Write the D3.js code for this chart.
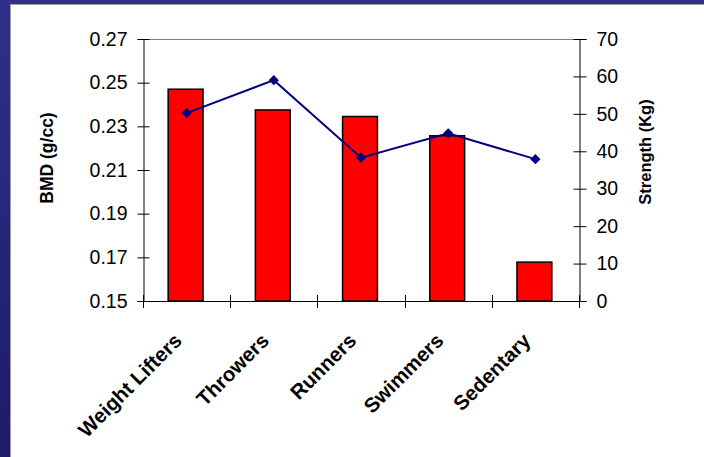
<!DOCTYPE html>
<meta charset="utf-8">
<style>
  body { margin: 0; }
  text { font-family: "Liberation Sans", Arial, sans-serif; }
</style>
<body>
<script src="https://d3js.org/d3.v7.min.js"></script>
<script>

var width = 704,
    height = 457;

// data
var groups = ["Weight Lifters", "Throwers", "Runners", "Swimmers", "Sedentary"];
var bmd = [0.247, 0.2375, 0.2345, 0.2257, 0.1678];   // bars, left axis
var strength = [50.2, 59.0, 38.3, 44.8, 37.9];       // line, right axis
var bmdTicks = [0.15, 0.17, 0.19, 0.21, 0.23, 0.25, 0.27];
var strengthTicks = [0, 10, 20, 30, 40, 50, 60, 70];

var plot = {left: 143, right: 579, top: 39, bottom: 301};

var svg = d3.select("body").append("svg")
    .attr("width", width)
    .attr("height", height);

// slide background: navy frame, white panel
var grad = svg.append("defs").append("linearGradient")
    .attr("id", "frame")
    .attr("x1", 0).attr("y1", 0).attr("x2", 0).attr("y2", 1);
grad.append("stop").attr("offset", 0).attr("stop-color", "#30308a");
grad.append("stop").attr("offset", 1).attr("stop-color", "#1c1c68");

svg.append("rect")
    .attr("width", width).attr("height", height)
    .attr("fill", "url(#frame)");
svg.append("rect")
    .attr("x", 10).attr("y", 4)
    .attr("width", width - 10).attr("height", height - 4)
    .attr("fill", "#fff");
svg.append("path")
    .attr("d", "M10.5," + height + "V4.5H" + width)
    .attr("fill", "none")
    .attr("stroke", "#9a9aa8");

var x = d3.scaleBand()
    .domain(groups)
    .range([plot.left, plot.right])
    .padding(0);

var yL = d3.scaleLinear().domain([0.15, 0.27]).range([plot.bottom, plot.top]);
var yR = d3.scaleLinear().domain([0, 70]).range([plot.bottom, plot.top]);

// top border of plot area
svg.append("line")
    .attr("x1", plot.left).attr("x2", plot.right)
    .attr("y1", plot.top + 0.5).attr("y2", plot.top + 0.5)
    .attr("stroke", "#808080");

// bars
var barW = x.bandwidth() * 0.4;
svg.append("g").selectAll("rect")
  .data(groups)
  .enter().append("rect")
    .attr("x", (d) => x(d) + x.bandwidth() / 2 - barW / 2 - 1)
    .attr("y", (d, i) => yL(bmd[i]))
    .attr("width", barW)
    .attr("height", (d, i) => plot.bottom - yL(bmd[i]))
    .attr("fill", "#ff0000")
    .attr("stroke", "#000")
    .attr("stroke-width", 1.5);

// left axis
var gL = svg.append("g")
    .attr("transform", "translate(" + (plot.left + 0.5) + ",0)")
    .call(d3.axisLeft(yL).tickValues(bmdTicks).tickFormat(d3.format(".2f")).tickSizeOuter(0).tickSize(6).tickPadding(10));
gL.selectAll(".tick line").attr("x1", 6);

// right axis
var gR = svg.append("g")
    .attr("transform", "translate(" + (plot.right + 0.5) + ",0)")
    .call(d3.axisRight(yR).tickValues(strengthTicks).tickSizeOuter(0).tickSize(7).tickPadding(10));
gR.selectAll(".tick line").attr("x1", -6);

// bottom axis: ticks on the category boundaries
var bounds = groups.map((d) => x(d)).concat([plot.right]);
var gB = svg.append("g");
gB.append("line")
    .attr("x1", plot.left).attr("x2", plot.right)
    .attr("y1", plot.bottom + 0.5).attr("y2", plot.bottom + 0.5)
    .attr("stroke", "#000");
gB.selectAll(".btick")
  .data(bounds)
  .enter().append("line")
    .attr("class", "btick")
    .attr("x1", (d) => Math.round(d) + 0.5).attr("x2", (d) => Math.round(d) + 0.5)
    .attr("y1", plot.bottom - 6).attr("y2", plot.bottom + 7)
    .attr("stroke", "#000");

gB.selectAll(".blabel")
  .data(groups)
  .enter().append("text")
    .attr("class", "blabel")
    .attr("transform", (d) => "translate(" + (x(d) + x.bandwidth() / 2 - 3.5) + "," + 342 + ") rotate(-45)")
    .attr("text-anchor", "end")
    .attr("font-size", 20.5)
    .attr("font-weight", "bold")
    .text((d) => d);

[gL, gR].forEach(function(g) {
  g.select(".domain").attr("stroke", "#000");
  g.selectAll(".tick line").attr("stroke", "#000");
  g.selectAll(".tick text")
      .attr("font-size", 19.5)
      .attr("font-family", "'Liberation Sans', Arial, sans-serif")
      .attr("fill", "#000");
});

// strength line
var line = d3.line()
    .x((d, i) => x(groups[i]) + x.bandwidth() / 2)
    .y((d) => yR(d));

svg.append("path")
    .datum(strength)
    .attr("d", line)
    .attr("fill", "none")
    .attr("stroke", "#000080")
    .attr("stroke-width", 2);

svg.append("g").selectAll("path")
  .data(strength)
  .enter().append("path")
    .attr("d", d3.symbol(d3.symbolSquare, 52))
    .attr("transform", (d, i) => "translate(" + (x(groups[i]) + x.bandwidth() / 2) + "," + yR(d) + ") rotate(45)")
    .attr("fill", "#000080");

// axis titles
svg.append("text")
    .attr("transform", "translate(53,158) rotate(-90)")
    .attr("text-anchor", "middle")
    .attr("font-size", 17.5)
    .attr("font-weight", "bold")
    .text("BMD (g/cc)");

svg.append("text")
    .attr("transform", "translate(651,152) rotate(-90)")
    .attr("text-anchor", "middle")
    .attr("font-size", 16.5)
    .attr("font-weight", "bold")
    .text("Strength (Kg)");

</script>
